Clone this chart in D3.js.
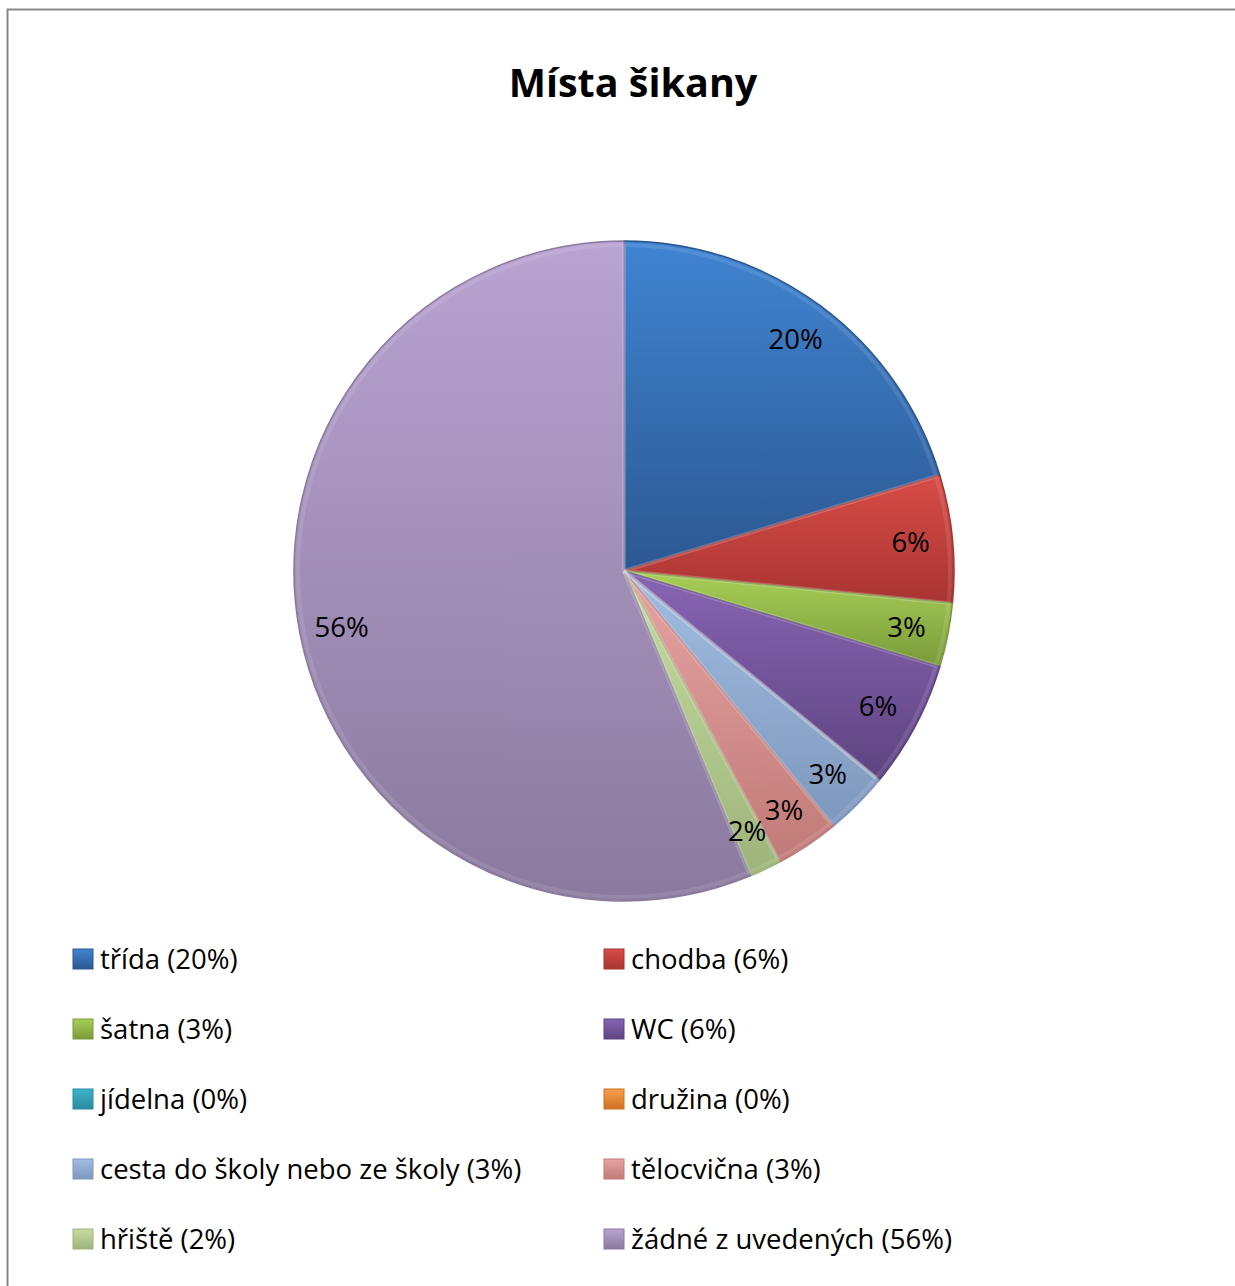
<!DOCTYPE html>
<html>
<head>
<meta charset="utf-8">
<script src="https://cdn.jsdelivr.net/npm/d3@7"></script>
<style>
  body { margin: 0; background: #fff; }
  svg { display: block; }
</style>
</head>
<body>
<svg></svg>
<script>
var categories = ["třída", "chodba", "šatna", "WC", "jídelna", "družina",
                  "cesta do školy nebo ze školy", "tělocvična", "hřiště", "žádné z uvedených"];
var counts = [13, 4, 2, 4, 0, 0, 2, 2, 1, 36];
var topColors = ["#4084d2", "#d84c48", "#a8cf58", "#8865b4", "#3cb4cc", "#f8a050",
                 "#a2bde2", "#e6a4a2", "#c8dca2", "#b9a3d2"];
var bottomColors = ["#2c5891", "#a83431", "#7a9a3a", "#5e4380", "#2b8aa0", "#d07020",
                    "#7e97bd", "#c07a78", "#9eb47a", "#8a7a9e"];
var title = "Místa šikany";

var drawChart = function()
{
  var width = 1235;
  var height = 1286;
  var cx = 624, cy = 571, radius = 330;
  var total = d3.sum(counts);
  var pct = function(v) { return Math.round(v / total * 100) + "%"; };

  var svg = d3.select("svg")
              .attr("width", width)
              .attr("height", height);

  /*chart frame*/
  svg.append("rect")
     .attr("x", 7.5).attr("y", 9.5)
     .attr("width", width + 20).attr("height", height + 20)
     .attr("fill", "white")
     .attr("stroke", "#878787")
     .attr("stroke-width", 2);

  svg.append("text")
     .text(title)
     .attr("x", 633)
     .attr("y", 97)
     .attr("text-anchor", "middle")
     .style("font-family", "'Open Sans', sans-serif")
     .style("font-weight", "bold")
     .style("font-size", "39.5px");

  var defs = svg.append("defs");
  categories.forEach(function(c, i)
  {
    var g = defs.append("linearGradient")
                .attr("id", "grad" + i)
                .attr("x1", 0).attr("y1", 0).attr("x2", 0).attr("y2", 1);
    g.append("stop").attr("offset", "0%").attr("stop-color", topColors[i]);
    g.append("stop").attr("offset", "100%").attr("stop-color", bottomColors[i]);
  });

  var pie = d3.pie().sort(null).value(function(d) { return d; });
  var arcs = pie(counts);
  var arc = d3.arc().innerRadius(0).outerRadius(radius);
  var labelArc = d3.arc().innerRadius(288).outerRadius(288);

  var pieG = svg.append("g").attr("transform", "translate(" + cx + "," + cy + ")");

  pieG.selectAll("path.slice")
      .data(arcs)
      .enter()
      .append("path")
      .attr("class", "slice")
      .attr("d", arc)
      .attr("fill", function(d, i) { return "url(#grad" + i + ")"; })
      .attr("stroke", function(d, i) { return bottomColors[i]; })
      .attr("stroke-width", 1.5)
      .attr("stroke-linejoin", "round");

  /*light bevel on slice edges*/
  pieG.selectAll("path.bevel")
      .data(arcs)
      .enter()
      .append("path")
      .attr("class", "bevel")
      .attr("d", d3.arc().innerRadius(0).outerRadius(radius - 4))
      .attr("fill", "none")
      .attr("stroke", "white")
      .attr("stroke-opacity", 0.1)
      .attr("stroke-width", 4);

  pieG.selectAll("text")
      .data(arcs.filter(function(d) { return d.value > 0; }))
      .enter()
      .append("text")
      .text(function(d) { return pct(d.value); })
      .attr("x", function(d) { return labelArc.centroid(d)[0]; })
      .attr("y", function(d) { return labelArc.centroid(d)[1]; })
      .attr("dy", "0.35em")
      .attr("text-anchor", "middle")
      .style("font-family", "'Open Sans', sans-serif")
      .style("font-size", "27.5px");

  /*legend*/
  var legend = svg.append("g");
  var items = legend.selectAll("g")
                    .data(categories)
                    .enter()
                    .append("g")
                    .attr("transform", function(d, i)
                    {
                      return "translate(" + (i % 2 === 0 ? 73 : 604) + "," + (959 + Math.floor(i / 2) * 70) + ")";
                    });

  items.append("rect")
       .attr("x", 0).attr("y", -10)
       .attr("width", 20).attr("height", 20)
       .attr("fill", function(d, i) { return "url(#grad" + i + ")"; })
       .attr("stroke", function(d, i) { return bottomColors[i]; })
       .attr("stroke-width", 1);

  items.append("text")
       .text(function(d, i) { return d + " (" + pct(counts[i]) + ")"; })
       .attr("x", 27)
       .attr("y", 0)
       .attr("dy", "0.36em")
       .style("font-family", "'Open Sans', sans-serif")
       .style("font-size", "27.5px");
}

drawChart();
</script>
</body>
</html>
